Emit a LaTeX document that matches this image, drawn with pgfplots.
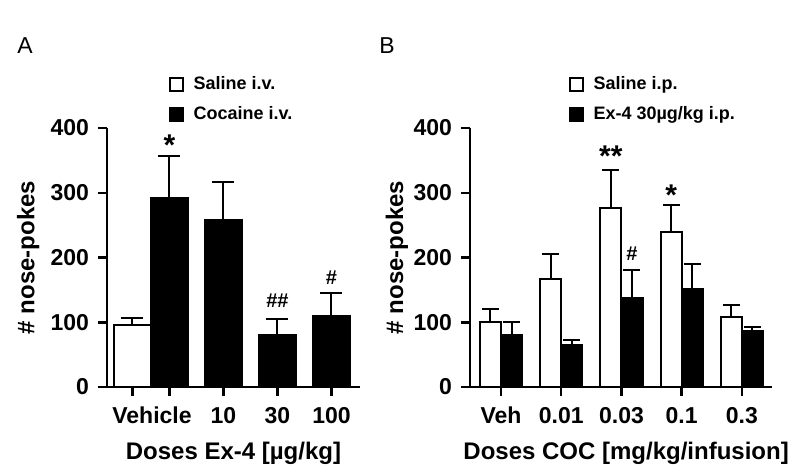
\documentclass[border=0pt]{standalone}
\usepackage{fontspec}
\setmainfont{Liberation Sans}
\usepackage{pgfplots}
\pgfplotsset{compat=1.18}

\pgfplotsset{
  prism/.style={
    scale only axis, height=129.5pt,
    ymin=0, ymax=400, ytick={0,100,...,400},
    axis lines=left,
    axis line style={-, line width=1.25pt},
    x axis line style={shorten <=-4.5pt},
    tick style={line width=1.25pt, black},
    tick align=outside, major tick length=4.5pt,
    tick label style={font=\bfseries\fontsize{11.5}{13}\selectfont},
    xticklabel style={yshift=-2pt},
    yticklabel style={xshift=-1pt},
    /pgf/number format/assume math mode=true,
    legend style={draw=none, fill=none, inner sep=0pt, nodes={inner sep=0pt},
      font=\bfseries\fontsize{9}{10.5}\selectfont, row sep=7pt, column sep=5pt},
    legend cell align=left,
    clip=false,
    error bars/y dir=plus, error bars/y explicit,
    error bars/error bar style={line width=1pt, black},
  },
  bars/.style={ybar, bar shift=0pt, draw=black, line width=1pt,
    legend image code/.code={\draw[line width=1pt] (0pt,-3.25pt) rectangle (6.5pt,3.25pt);}},
}
\tikzset{
  lab/.style={font=\bfseries\fontsize{12}{14}\selectfont},
  star/.style={font=\bfseries\fontsize{15}{15}\selectfont, anchor=base, inner sep=0pt},
  hash/.style={font=\bfseries\fontsize{10}{10}\selectfont, anchor=base, inner sep=0pt},
}

\begin{document}
\begin{tikzpicture}
\path[use as bounding box] (0,0) rectangle (400pt,236.5pt);
\node[font=\fontsize{11.5}{13}\selectfont] at (12.5pt,213.5pt) {A};
\node[font=\fontsize{11.5}{13}\selectfont] at (193.5pt,213.5pt) {B};

% panel A
\begin{axis}[prism, at={(53.5pt,43pt)}, anchor=south west, width=126.5pt,
  xmin=-0.157, xmax=4.528,
  xtick={0.315,1,2,3,4}, xticklabels={,,10,30,100},
  extra x ticks={0.676}, extra x tick labels={Vehicle},
  extra x tick style={major tick style={draw=none}},
  xlabel={Doses Ex-4 [µg/kg]}, ylabel={\# nose-pokes},
  every axis x label/.style={lab, at={(axis description cs:0.5,-0.255)}, anchor=center},
  every axis y label/.style={lab, at={(axis description cs:-0.312,0.5)}, rotate=90, anchor=center},
  legend style={at={(0.242,1.200)}, anchor=north west},
  error bars/error mark options={rotate=90, mark size=5.5pt, line width=1pt},
]
\addplot[bars, fill=white, bar width=0.685] coordinates {(0.315,95) +- (0,12)};
\addlegendentry{Saline i.v.}
\addplot[bars, fill=black, bar width=0.685] coordinates {
  (1,292) +- (0,65)
  (2,258) +- (0,59)
  (3,80) +- (0,25)
  (4,110) +- (0,35)
};
\addlegendentry{Cocaine i.v.}
\node[star] at (axis cs:1,358) {*};
\node[hash] at (axis cs:3,123) {\#\#};
\node[hash] at (axis cs:4,159) {\#};
\end{axis}

% panel B
\begin{axis}[prism, at={(235pt,43pt)}, anchor=south west, width=151pt,
  xmin=-0.515, xmax=4.5,
  xtick={0,1,2,3,4}, xticklabels={Veh,0.01,0.03,0.1,0.3},
  xlabel={Doses COC [mg/kg/infusion]}, ylabel={\# nose-pokes},
  every axis x label/.style={lab, at={(axis description cs:0.517,-0.255)}, anchor=center},
  every axis y label/.style={lab, at={(axis description cs:-0.242,0.5)}, rotate=90, anchor=center},
  legend style={at={(0.325,1.200)}, anchor=north west},
  error bars/error mark options={rotate=90, mark size=4.25pt, line width=1pt},
]
\addplot[bars, fill=white, bar width=0.35] coordinates {
  (-0.175,100) +- (0,20)
  (0.825,167) +- (0,38)
  (1.825,277) +- (0,58)
  (2.825,240) +- (0,41)
  (3.825,108) +- (0,19)
};
\addlegendentry{Saline i.p.}
\addplot[bars, fill=black, bar width=0.35] coordinates {
  (0.175,80) +- (0,20)
  (1.175,65) +- (0,8)
  (2.175,138) +- (0,43)
  (3.175,151) +- (0,39)
  (4.175,86) +- (0,7)
};
\addlegendentry{Ex-4 30µg/kg i.p.}
\node[star] at (axis cs:1.825,340) {**};
\node[star] at (axis cs:2.825,281) {*};
\node[hash] at (axis cs:2.175,196) {\#};
\end{axis}
\end{tikzpicture}
\end{document}
